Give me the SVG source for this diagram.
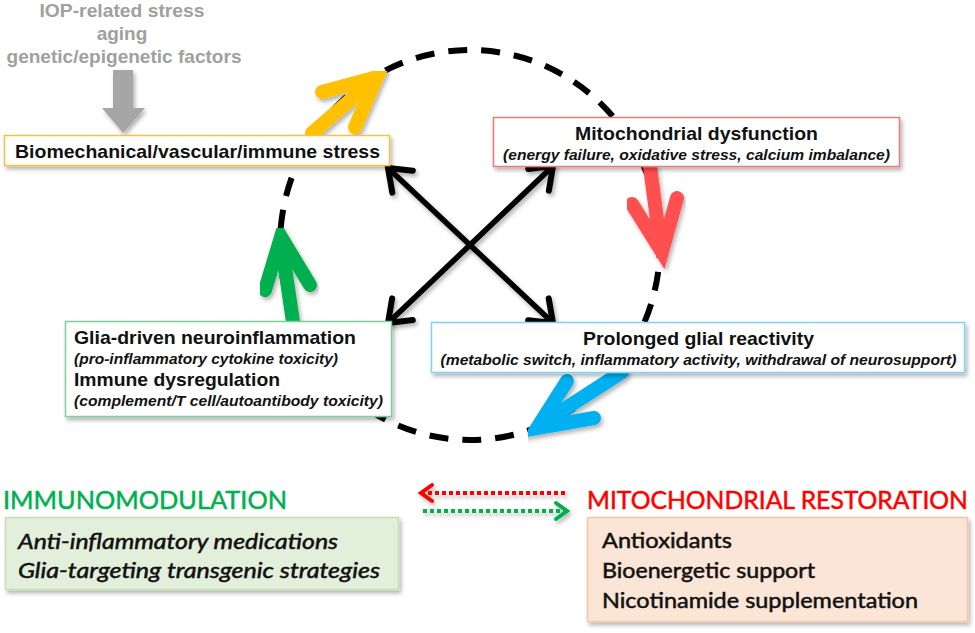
<svg xmlns="http://www.w3.org/2000/svg" width="975" height="633" viewBox="0 0 975 633">
<defs>
  <filter id="sh" x="-10%" y="-10%" width="130%" height="140%">
    <feDropShadow dx="2" dy="3" stdDeviation="2" flood-color="#000" flood-opacity="0.3"/>
  </filter>
  <marker id="bh" viewBox="-25 -20 30 40" refX="0" refY="0" markerWidth="30" markerHeight="40" markerUnits="userSpaceOnUse" orient="auto-start-reverse">
    <path d="M -20 -15 L 0 0 L -20 15" fill="none" stroke="#000" stroke-width="6" stroke-linecap="round" stroke-linejoin="miter"/>
  </marker>
  <style>
    .t { font-family: "Liberation Sans", Arial, sans-serif; font-weight: bold; font-size: 19px; fill: #111; }
    .ti { font-family: "Liberation Sans", Arial, sans-serif; font-weight: bold; font-style: italic; font-size: 15px; fill: #111; }
    .g { font-family: "Liberation Sans", Arial, sans-serif; font-weight: bold; font-size: 19px; fill: #a0a0a0; text-anchor: middle; }
    .box { fill: #fff; stroke-width: 1.5; filter: url(#sh); }
    .ca { fill: none; stroke-width: 14; stroke-linecap: round; stroke-linejoin: miter; stroke-miterlimit: 10; filter: url(#sh); }
    .x { fill: none; stroke: #000; stroke-width: 5.5; marker-start: url(#bh); marker-end: url(#bh); filter: url(#sh); }
    .c { font-family: Lato, "Open Sans", sans-serif; stroke-width: 0.5; }
  </style>
</defs>

<g id="cycle">
  <ellipse cx="470" cy="245" rx="190" ry="195" fill="none" stroke="#000" stroke-width="6" stroke-dasharray="19 14" stroke-dashoffset="6"/>
</g>

<g id="factors">
  <text class="g" x="122" y="17" textLength="165" lengthAdjust="spacingAndGlyphs">IOP-related stress</text>
  <text class="g" x="122" y="40">aging</text>
  <text class="g" x="124" y="63" textLength="235" lengthAdjust="spacingAndGlyphs">genetic/epigenetic factors</text>
  <polygon points="113,70 133,70 133,108 145,108 123,133 102,108 113,108" fill="#a6a6a6" filter="url(#sh)"/>
</g>

<g id="connectors">
  <line class="x" x1="388" y1="168" x2="553" y2="323"/>
  <line class="x" x1="553" y1="166" x2="388" y2="323"/>
  <g stroke="#ffc000" class="ca">
    <line x1="312" y1="133" x2="370" y2="83"/>
    <polyline points="322,92 377,77 355,127"/>
  </g>
  <g stroke="#ff5050" class="ca">
    <line x1="650" y1="167" x2="660" y2="242"/>
    <polyline points="632,204 662,252 677,198"/>
  </g>
  <g stroke="#00b050" class="ca">
    <line x1="293" y1="322" x2="282" y2="247"/>
    <polyline points="265,290 281,237 310,285"/>
  </g>
  <g stroke="#00b0f0" class="ca">
    <line x1="622" y1="372" x2="546" y2="421"/>
    <polyline points="567,381 537,428 594,418"/>
  </g>
</g>

<g id="n-biomech">
  <rect class="box" x="4.5" y="135.5" width="385" height="30" stroke="#f5c342"/>
  <text class="t" x="197.5" y="158" text-anchor="middle" textLength="365" lengthAdjust="spacingAndGlyphs">Biomechanical/vascular/immune stress</text>
</g>

<g id="n-mito">
  <rect class="box" x="493.5" y="117.5" width="406" height="49" stroke="#f07878"/>
  <text class="t" x="696.5" y="140" text-anchor="middle" textLength="243" lengthAdjust="spacingAndGlyphs">Mitochondrial dysfunction</text>
  <text class="ti" x="696.5" y="160" text-anchor="middle" textLength="387" lengthAdjust="spacingAndGlyphs">(energy failure, oxidative stress, calcium imbalance)</text>
</g>

<g id="n-glia">
  <rect class="box" x="65.5" y="321.5" width="326" height="95" stroke="#7ccf9c"/>
  <text class="t" x="74" y="344" textLength="282" lengthAdjust="spacingAndGlyphs">Glia-driven neuroinflammation</text>
  <text class="ti" x="74" y="364" textLength="264" lengthAdjust="spacingAndGlyphs">(pro-inflammatory cytokine toxicity)</text>
  <text class="t" x="74" y="386" textLength="206" lengthAdjust="spacingAndGlyphs">Immune dysregulation</text>
  <text class="ti" x="74" y="406" textLength="309" lengthAdjust="spacingAndGlyphs">(complement/T cell/autoantibody toxicity)</text>
</g>

<g id="n-glial-reactivity">
  <rect class="box" x="431.5" y="322.5" width="533" height="50" stroke="#7dd3f0"/>
  <text class="t" x="698.5" y="345" text-anchor="middle" textLength="231" lengthAdjust="spacingAndGlyphs">Prolonged glial reactivity</text>
  <text class="ti" x="698.5" y="365" text-anchor="middle" textLength="516" lengthAdjust="spacingAndGlyphs">(metabolic switch, inflammatory activity, withdrawal of neurosupport)</text>
</g>

<g id="dotted-arrows" filter="url(#sh)">
  <line x1="565" y1="493" x2="423" y2="493" stroke="#ff0000" stroke-width="4" stroke-dasharray="4 3"/>
  <polyline points="432,485 421,493 432,501" fill="none" stroke="#ff0000" stroke-width="4" stroke-linecap="round"/>
  <line x1="423" y1="511" x2="565" y2="511" stroke="#00b050" stroke-width="4" stroke-dasharray="4 3"/>
  <polyline points="556,503 567,511 556,519" fill="none" stroke="#00b050" stroke-width="4" stroke-linecap="round"/>
</g>

<g id="n-immuno">
  <text class="c" x="3" y="509" font-size="25" fill="#00b050" stroke="#00b050" textLength="284" lengthAdjust="spacingAndGlyphs">IMMUNOMODULATION</text>
  <rect x="5.5" y="517.5" width="393" height="72" fill="#e2efda" stroke="#c5dfb4" stroke-width="1.5" filter="url(#sh)"/>
  <text class="c" x="18" y="549" font-size="21" font-style="italic" fill="#111" stroke="#111" textLength="320" lengthAdjust="spacingAndGlyphs">Anti-inflammatory medications</text>
  <text class="c" x="18" y="578" font-size="21" font-style="italic" fill="#111" stroke="#111" textLength="362" lengthAdjust="spacingAndGlyphs">Glia-targeting transgenic strategies</text>
</g>

<g id="n-mito-restoration">
  <text class="c" x="587" y="509" font-size="25" fill="#ff0000" stroke="#ff0000" textLength="381" lengthAdjust="spacingAndGlyphs">MITOCHONDRIAL RESTORATION</text>
  <rect x="587.5" y="517.5" width="380" height="104" fill="#fbe5d6" stroke="#f4c6a8" stroke-width="1.5" filter="url(#sh)"/>
  <text class="c" x="602" y="548" font-size="21" fill="#111" stroke="#111" textLength="130" lengthAdjust="spacingAndGlyphs">Antioxidants</text>
  <text class="c" x="602" y="578" font-size="21" fill="#111" stroke="#111" textLength="213" lengthAdjust="spacingAndGlyphs">Bioenergetic support</text>
  <text class="c" x="602" y="608" font-size="21" fill="#111" stroke="#111" textLength="316" lengthAdjust="spacingAndGlyphs">Nicotinamide supplementation</text>
</g>
</svg>
